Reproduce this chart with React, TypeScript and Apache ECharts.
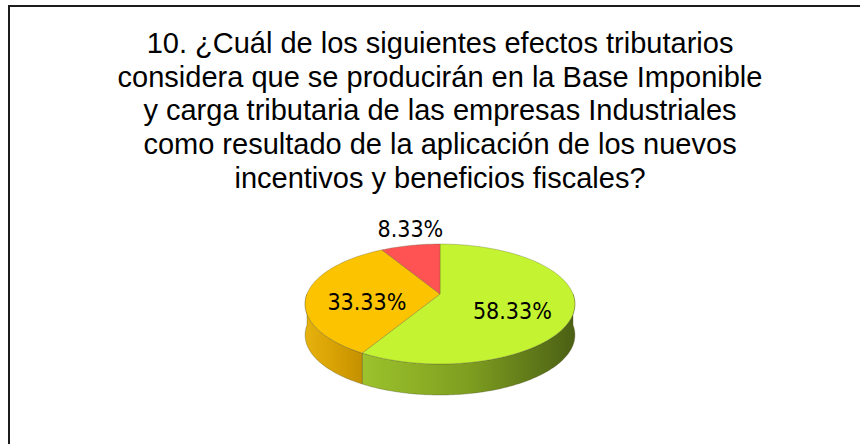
import React, { useEffect, useRef } from "react";
import * as echarts from "echarts";

const titleLines = [
  "10. ¿Cuál de los siguientes efectos tributarios",
  "considera que se producirán en la Base Imponible",
  "y carga tributaria de las empresas Industriales",
  "como resultado de la aplicación de los nuevos",
  "incentivos y beneficios fiscales?",
];
const categories = ["Efecto A", "Efecto B", "Efecto C"];
const values = [58.33, 33.33, 8.33];
const topColors = ["#C4F431", "#FBC300", "#FF5353"];
const sideColors = [
  ["#9CC22C", "#7E9E20", "#4B6014"],
  ["#E6B20E", "#D8A204", "#C49000"],
  ["#E04040", "#C03030", "#A02020"],
];

export default function App() {
  const ref = useRef<HTMLDivElement>(null);
  useEffect(() => {
    const chart = echarts.init(ref.current!, null, { renderer: "svg" });
    const total = values.reduce((a, b) => a + b, 0);
    const starts: number[] = [];
    let acc = 0;
    values.forEach((v) => {
      starts.push((acc / total) * 360);
      acc += v;
    });

    const CX = 440, CY = 294, RX = 133, RY = 58.3, P = 0.167, DEPTH = 31;
    const proj = (deg: number, r = 1, dy = 0): number[] => {
      const t = (deg * Math.PI) / 180;
      const X = Math.sin(t) * r;
      const Z = -Math.cos(t) * r;
      const s = 1 / (1 - P * Z);
      return [CX + RX * X * s, CY + RY * Z * s + dy];
    };
    const arc = (a: number, b: number, dy = 0): number[][] => {
      const pts: number[][] = [];
      const n = Math.max(2, Math.ceil(b - a));
      for (let i = 0; i <= n; i++) pts.push(proj(a + ((b - a) * i) / n, 1, dy));
      return pts;
    };

    const renderItem = (params: any, api: any) => {
      const idx = params.dataIndex;
      const v = api.value(0);
      const a = starts[idx];
      const b = a + (v / total) * 360;
      const children: any[] = [];
      const wa = Math.max(a, 90);
      const wb = Math.min(b, 270);
      if (wa < wb) {
        const top = arc(wa, wb, 0);
        const bottom = arc(wa, wb, DEPTH).reverse();
        children.push({
          type: "polygon",
          shape: { points: top.concat(bottom) },
          style: {
            fill: new echarts.graphic.LinearGradient(0, 0, 1, 0, [
              { offset: 0, color: sideColors[idx][0] },
              { offset: 0.5, color: sideColors[idx][1] },
              { offset: 1, color: sideColors[idx][2] },
            ]),
            stroke: "rgba(70,70,30,0.45)",
            lineWidth: 0.7,
          },
        });
      }
      children.push({
        type: "polygon",
        shape: { points: [[CX, CY]].concat(arc(a, b, 0)) },
        style: {
          fill: topColors[idx],
          stroke: "rgba(90,90,40,0.45)",
          lineWidth: 0.7,
        },
      });
      const mid = (a + b) / 2;
      const outside = v / total < 0.1;
      const pos = outside ? proj(mid, 1, -17) : proj(mid, 0.55, 8);
      children.push({
        type: "text",
        x: pos[0],
        y: pos[1],
        style: {
          text: v.toFixed(2) + "%",
          align: "center",
          verticalAlign: "middle",
          fontSize: 23,
          fontFamily: "'Liberation Sans Narrow', 'DejaVu Sans Condensed', sans-serif",
          fill: "#000",
        },
      });
      return { type: "group", children };
    };

    chart.setOption({
      animation: false,
      backgroundColor: "#fff",
      graphic: [
        {
          type: "rect",
          shape: { x: 9, y: 6, width: 900, height: 500 },
          style: { fill: "none", stroke: "#1c1c1c", lineWidth: 2 },
          silent: true,
        },
        {
          type: "text",
          x: 440,
          y: 26,
          style: {
            text: titleLines.join("\n"),
            align: "center",
            verticalAlign: "top",
            fontSize: 29,
            lineHeight: 33.75,
            fontFamily: "'Liberation Sans', Arial, sans-serif",
            fill: "#000",
          },
          silent: true,
        },
      ],
      series: [
        {
          type: "custom",
          coordinateSystem: "none",
          renderItem,
          data: values.map((v, i) => ({ name: categories[i], value: v })),
        },
      ],
    });
    return () => chart.dispose();
  }, []);
  return (
    <div
      ref={ref}
      style={{ position: "absolute", left: 0, top: 0, width: 860, height: 444 }}
    />
  );
}
